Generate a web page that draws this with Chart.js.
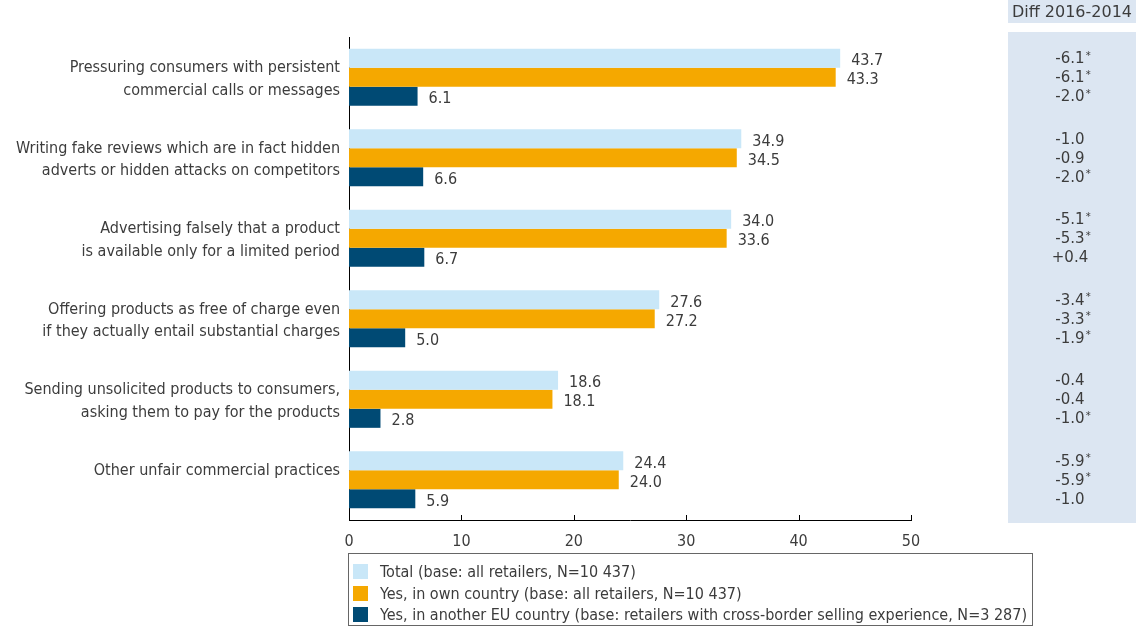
<!DOCTYPE html>
<html lang="en">
<head>
<meta charset="UTF-8">
<title>Unfair commercial practices</title>
<script src="https://cdn.jsdelivr.net/npm/chart.js"></script>
<style>
    body {
        margin: 0;
        background: #fff;
        font-family: "DejaVu Sans Condensed", sans-serif;
        color: #3c3c3c;
    }

    .wrap {
        position: relative;
        width: 1136px;
        height: 626px;
    }

    #legend {
        position: absolute;
        left: 348px;
        top: 553px;
        width: 685px;
        height: 73px;
        border: 1px solid #666;
        box-sizing: border-box;
        padding: 7px 0 0 4px;
        font-size: 16px;
    }

    .item {
        display: flex;
        align-items: center;
        height: 21.5px;
    }

    .sw {
        width: 15px;
        height: 15px;
        margin-right: 12px;
    }
</style>
</head>
<body>

<div class="wrap">
    <canvas id="chart" width="1136" height="626"></canvas>
    <div id="legend"></div>
</div>

<script>
    const categories = [
        ['Pressuring consumers with persistent', 'commercial calls or messages'],
        ['Writing fake reviews which are in fact hidden', 'adverts or hidden attacks on competitors'],
        ['Advertising falsely that a product', 'is available only for a limited period'],
        ['Offering products as free of charge even', 'if they actually entail substantial charges'],
        ['Sending unsolicited products to consumers,', 'asking them to pay for the products'],
        ['Other unfair commercial practices', '']
    ];

    const seriesNames = [
        'Total (base: all retailers, N=10 437)',
        'Yes, in own country (base: all retailers, N=10 437)',
        'Yes, in another EU country (base: retailers with cross-border selling experience, N=3 287)'
    ];
    const seriesColors = ['#c9e7f8', '#f5a800', '#004a74'];

    const total = [43.7, 34.9, 34.0, 27.6, 18.6, 24.4];
    const ownCountry = [43.3, 34.5, 33.6, 27.2, 18.1, 24.0];
    const otherEU = [6.1, 6.6, 6.7, 5.0, 2.8, 5.9];

    // diff 2016-2014, one list per series; * = significant
    const diffTotal = ['-6.1*', '-1.0', '-5.1*', '-3.4*', '-0.4', '-5.9*'];
    const diffOwn = ['-6.1*', '-0.9', '-5.3*', '-3.3*', '-0.4', '-5.9*'];
    const diffOther = ['-2.0*', '-2.0*', '+0.4', '-1.9*', '-1.0*', '-1.0'];

    const xTicks = [0, 10, 20, 30, 40, 50];

    const FONT = '"DejaVu Sans Condensed", sans-serif';
    const DIFF_FONT = '"DejaVu Sans", sans-serif';
    const TEXT = '#3c3c3c';

    const diffs = [diffTotal, diffOwn, diffOther];

    const extras = {
        id: 'extras',
        beforeDraw(chart) {
            const ctx = chart.ctx;
            ctx.save();
            ctx.fillStyle = '#dce6f2';
            ctx.fillRect(1008, 0, 128, 23);
            ctx.fillRect(1008, 32, 128, 491);
            ctx.restore();
        },
        afterDraw(chart) {
            const ctx = chart.ctx;
            const xs = chart.scales.x;
            ctx.save();
            // tick marks point up into the plot
            ctx.strokeStyle = '#000';
            ctx.lineWidth = 1;
            xTicks.forEach(v => {
                const px = Math.round(xs.getPixelForValue(v)) + 0.5;
                ctx.beginPath();
                ctx.moveTo(px, chart.chartArea.bottom);
                ctx.lineTo(px, chart.chartArea.bottom - 5);
                ctx.stroke();
            });

            ctx.fillStyle = TEXT;
            ctx.textBaseline = 'middle';
            chart.data.datasets.forEach((ds, i) => {
                const meta = chart.getDatasetMeta(i);
                meta.data.forEach((bar, j) => {
                    ctx.font = '16px ' + FONT;
                    ctx.textAlign = 'left';
                    ctx.fillText(ds.data[j].toFixed(1), bar.x + 11, bar.y + 3);

                    const s = diffs[i][j];
                    const star = s.endsWith('*');
                    const num = star ? s.slice(0, -1) : s;
                    ctx.font = '15px ' + DIFF_FONT;
                    ctx.textAlign = 'center';
                    ctx.fillText(num, 1070, bar.y + 1);
                    if (star) {
                        const w = ctx.measureText(num).width;
                        ctx.font = '10px ' + DIFF_FONT;
                        ctx.textAlign = 'left';
                        ctx.fillText('*', 1070 + w / 2 + 1, bar.y - 2);
                    }
                });
            });

            ctx.font = '16px ' + DIFF_FONT;
            ctx.textAlign = 'center';
            ctx.fillText('Diff 2016-2014', 1072, 13);
            ctx.restore();
        }
    };

    new Chart(document.getElementById('chart').getContext('2d'), {
        type: 'bar',
        data: {
            labels: categories,
            datasets: [
                {label: seriesNames[0], data: total, backgroundColor: seriesColors[0]},
                {label: seriesNames[1], data: ownCountry, backgroundColor: seriesColors[1]},
                {label: seriesNames[2], data: otherEU, backgroundColor: seriesColors[2]}
            ]
        },
        options: {
            indexAxis: 'y',
            responsive: false,
            animation: false,
            datasets: {bar: {barPercentage: 1, categoryPercentage: 0.71}},
            layout: {padding: {top: 37, right: 225, bottom: 66, left: 0}},
            plugins: {legend: {display: false}, tooltip: {enabled: false}},
            scales: {
                y: {
                    afterFit: s => { s.width = 349; },
                    grid: {display: false, drawTicks: false},
                    border: {display: true, color: '#000'},
                    ticks: {
                        padding: 9,
                        labelOffset: 2,
                        color: TEXT,
                        font: {family: FONT, size: 16, lineHeight: 1.4}
                    }
                },
                x: {
                    min: 0,
                    max: 50,
                    afterFit: s => { s.height = 40; },
                    afterBuildTicks: s => { s.ticks = xTicks.map(v => ({value: v})); },
                    grid: {display: false, drawTicks: false},
                    border: {display: true, color: '#000'},
                    ticks: {
                        padding: 12,
                        color: TEXT,
                        font: {family: FONT, size: 16}
                    }
                }
            }
        },
        plugins: [extras]
    });

    const legend = document.getElementById('legend');
    seriesNames.forEach((name, i) => {
        const row = document.createElement('div');
        row.className = 'item';
        row.innerHTML = `<span class="sw" style="background:${seriesColors[i]}"></span><span>${name}</span>`;
        legend.appendChild(row);
    });
</script>

</body>
</html>
